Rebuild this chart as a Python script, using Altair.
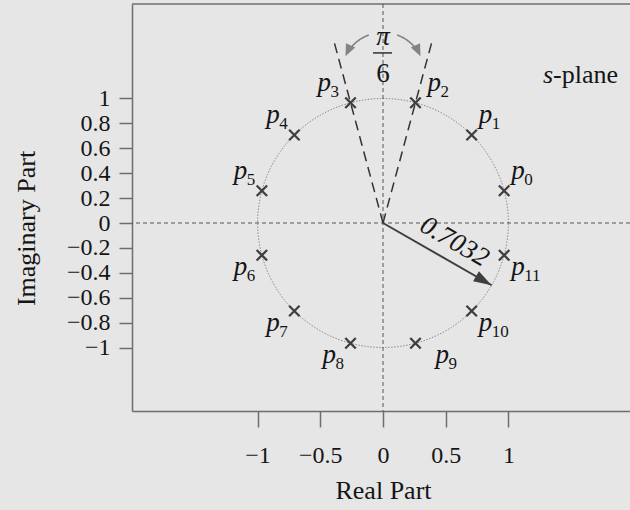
import altair as alt
import numpy as np
import pandas as pd

# ---- data -------------------------------------------------------------
pole_ids = ["0", "1", "2", "3", "4", "5", "6", "7", "8", "9", "10", "11"]
pole_re = [0.966, 0.707, 0.259, -0.259, -0.707, -0.966,
           -0.966, -0.707, -0.259, 0.259, 0.707, 0.966]
pole_im = [0.259, 0.707, 0.966, 0.966, 0.707, 0.259,
           -0.259, -0.707, -0.966, -0.966, -0.707, -0.259]

x_ticks = [-1, -0.5, 0, 0.5, 1]
y_ticks = [-1, -0.8, -0.6, -0.4, -0.2, 0, 0.2, 0.4, 0.6, 0.8, 1]

radius_text = "0.7032"
arrow_angle_deg = -30          # direction of the radius arrow
sector_angles_deg = [75, 105]  # rays through p2 and p3
angle_num, angle_den = "π", "6"

# ---- layout -------------------------------------------------------------
W, H = 498, 407
X_DOM = [-2.0016, 1.9697]
Y_DOM = [-1.510, 1.759]
PX = W / (X_DOM[1] - X_DOM[0])   # pixels per unit
PY = H / (Y_DOM[1] - Y_DOM[0])

SERIF = "Liberation Serif, Times New Roman, Times, serif"
INK = "#151515"
AXIS_GREY = "#6e6e6e"
MARK_DARK = "#3f3f3f"
ARROW_GREY = "#838383"
BG = "#e6e6e6"

xs = alt.Scale(domain=X_DOM, nice=False, zero=False)
ys = alt.Scale(domain=Y_DOM, nice=False, zero=False)

x_axis = alt.Axis(
    values=x_ticks, format="~g", grid=False,
    tickSize=16, tickColor=AXIS_GREY, tickWidth=1.5,
    domainColor=AXIS_GREY, domainWidth=1.5,
    labelFont=SERIF, labelFontSize=24, labelColor=INK, labelPadding=16,
    title="Real Part", titleFont=SERIF, titleFontSize=26,
    titleFontWeight="normal", titleColor=INK,
    titleX=251, titleY=87, titleBaseline="alphabetic",
)
y_axis = alt.Axis(
    values=y_ticks, format="~g", grid=False,
    tickSize=13, tickColor=AXIS_GREY, tickWidth=1.5,
    domainColor=AXIS_GREY, domainWidth=1.5,
    labelFont=SERIF, labelFontSize=24, labelColor=INK, labelPadding=9,
    title="Imaginary Part", titleFont=SERIF, titleFontSize=26,
    titleFontWeight="normal", titleColor=INK,
    titleX=-98, titleY=224, titleAngle=-90, titleBaseline="alphabetic",
)


def X(field):
    return alt.X(field, type="quantitative", scale=xs, axis=x_axis)


def Y(field):
    return alt.Y(field, type="quantitative", scale=ys, axis=y_axis)


# ---- unit circle (dotted guide) ---------------------------------------
t = np.linspace(0, 2 * np.pi, 361)
circle_df = pd.DataFrame({"x": np.cos(t), "y": np.sin(t), "o": np.arange(len(t))})
circle = alt.Chart(circle_df).mark_line(
    color="#8a8a8a", strokeWidth=1, strokeDash=[1.5, 1.5]
).encode(x=X("x"), y=Y("y"), order="o:Q")

# ---- plot frame on top and zero lines ----------------------------------
top_border = alt.Chart().mark_rule(color=AXIS_GREY, strokeWidth=1.5).encode(
    x=alt.value(0), x2=alt.value(W), y=alt.value(0)
)
zero_h = alt.Chart().mark_rule(color="#555555", strokeWidth=1, strokeDash=[4, 3]).encode(
    y=alt.datum(0, scale=ys, axis=y_axis, type="quantitative")
)
zero_v = alt.Chart().mark_rule(color="#555555", strokeWidth=1, strokeDash=[4, 3]).encode(
    x=alt.datum(0, scale=xs, axis=x_axis, type="quantitative")
)

# ---- rays bounding the pi/6 sector -------------------------------------
ray_len = 1.5
rays_df = pd.DataFrame({
    "x0": [0.0] * len(sector_angles_deg),
    "y0": [0.0] * len(sector_angles_deg),
    "x1": [ray_len * np.cos(np.radians(a)) for a in sector_angles_deg],
    "y1": [ray_len * np.sin(np.radians(a)) for a in sector_angles_deg],
})
rays = alt.Chart(rays_df).mark_rule(
    color="#333333", strokeWidth=1.5, strokeDash=[10, 6]
).encode(x=X("x0"), y=Y("y0"), x2="x1", y2="y1")

# ---- poles ---------------------------------------------------------------
poles_df = pd.DataFrame({"id": pole_ids, "re": pole_re, "im": pole_im})
cross = "M-1,-1L1,1M1,-1L-1,1"
poles = alt.Chart(poles_df).mark_point(
    shape=cross, size=110, filled=False, stroke=MARK_DARK, strokeWidth=2.3, opacity=1
).encode(x=X("re"), y=Y("im"))

# label placement (pixel offsets of the "p" glyph's left edge / baseline)
lab = poles_df.copy()
dx = np.where(lab["re"] > 0, 7.0, -28.0)
dy = np.where(lab["im"] > 0, -12.0, 20.0)
dx[2] = 12.0    # keep p2 / p3 clear of the sector rays
dx[3] = -33.0
dx[9] = 20.0
lab["px"] = lab["re"] + dx / PX
lab["py"] = lab["im"] - dy / PY
lab["sx"] = lab["re"] + (dx + 13) / PX
lab["sy"] = lab["im"] - (dy + 6) / PY
lab["p"] = "p"

p_text = alt.Chart(lab).mark_text(
    font=SERIF, fontSize=27, fontStyle="italic", color=INK,
    align="left", baseline="alphabetic"
).encode(x=X("px"), y=Y("py"), text="p:N")
sub_text = alt.Chart(lab).mark_text(
    font=SERIF, fontSize=17, color=INK, align="left", baseline="alphabetic"
).encode(x=X("sx"), y=Y("sy"), text="id:N")

# ---- radius arrow ----------------------------------------------------------
ang = np.radians(arrow_angle_deg)
tip_x, tip_y = np.cos(ang), np.sin(ang)
arrow_df = pd.DataFrame({"x0": [0.0], "y0": [0.0], "x1": [tip_x], "y1": [tip_y]})
shaft = alt.Chart(arrow_df).mark_rule(color=MARK_DARK, strokeWidth=2).encode(
    x=X("x0"), y=Y("y0"), x2="x1", y2="y1"
)
head = alt.Chart(arrow_df).mark_point(
    shape="M0,0L-0.65,2L0.65,2Z", size=324, filled=True,
    color=MARK_DARK, opacity=1, angle=90 - arrow_angle_deg
).encode(x=X("x1"), y=Y("y1"))

radius_lbl = alt.Chart(pd.DataFrame({
    "x": [0.57], "y": [-0.15], "t": [radius_text]
})).mark_text(
    font=SERIF, fontSize=27, fontStyle="italic", color=INK,
    angle=-arrow_angle_deg, align="center", baseline="middle"
).encode(x=X("x"), y=Y("y"), text="t:N")

# ---- curved arrows marking the pi/6 angle -----------------------------------
arc_cx, arc_cy, arc_r = 0.0, 1.2, 0.33
left_th = np.radians(np.linspace(110, 148, 30))
right_th = np.radians(np.linspace(70, 32, 30))
arc_df = pd.concat([
    pd.DataFrame({"x": arc_cx + arc_r * np.cos(left_th),
                  "y": arc_cy + arc_r * np.sin(left_th),
                  "o": np.arange(30), "side": "L"}),
    pd.DataFrame({"x": arc_cx + arc_r * np.cos(right_th),
                  "y": arc_cy + arc_r * np.sin(right_th),
                  "o": np.arange(30), "side": "R"}),
])
arcs = alt.Chart(arc_df).mark_line(color=ARROW_GREY, strokeWidth=1.6).encode(
    x=X("x"), y=Y("y"), order="o:Q", detail="side:N"
)

tip_l, tip_r = np.radians(155), np.radians(25)
arc_heads = []
for th, rot in [(tip_l, 205), (tip_r, 155)]:
    arc_heads.append(
        alt.Chart(pd.DataFrame({"x": [arc_cx + arc_r * np.cos(th)],
                                "y": [arc_cy + arc_r * np.sin(th)]}))
        .mark_point(shape="M0,0L-0.85,2L0.85,2Z", size=144, filled=True,
                    color=ARROW_GREY, opacity=1, angle=rot)
        .encode(x=X("x"), y=Y("y"))
    )

frac_df = pd.DataFrame({"x": [0.0, 0.0], "y": [1.43, 1.133], "t": [angle_num, angle_den]})
frac_num = alt.Chart(frac_df.iloc[[0]]).mark_text(
    font=SERIF, fontSize=27, fontStyle="italic", color=INK,
    align="center", baseline="alphabetic"
).encode(x=X("x"), y=Y("y"), text="t:N")
frac_den = alt.Chart(frac_df.iloc[[1]]).mark_text(
    font=SERIF, fontSize=27, color=INK, align="center", baseline="alphabetic"
).encode(x=X("x"), y=Y("y"), text="t:N")
frac_bar = alt.Chart(pd.DataFrame({"x0": [-0.08], "x1": [0.072], "y": [1.366]})).mark_rule(
    color=INK, strokeWidth=1.3
).encode(x=X("x0"), x2="x1", y=Y("y"))

# ---- "s-plane" tag ----------------------------------------------------------
splane_s = alt.Chart(pd.DataFrame({"x": [1.276], "y": [1.124], "t": ["s"]})).mark_text(
    font=SERIF, fontSize=26, fontStyle="italic", color=INK,
    align="left", baseline="alphabetic"
).encode(x=X("x"), y=Y("y"), text="t:N")
splane_rest = alt.Chart(pd.DataFrame({"x": [1.356], "y": [1.124], "t": ["-plane"]})).mark_text(
    font=SERIF, fontSize=26, color=INK, align="left", baseline="alphabetic"
).encode(x=X("x"), y=Y("y"), text="t:N")

chart = alt.layer(
    circle, top_border, zero_h, zero_v, rays, arcs, *arc_heads,
    shaft, head, poles, p_text, sub_text, radius_lbl,
    frac_num, frac_den, frac_bar, splane_s, splane_rest,
).properties(
    width=W, height=H,
    autosize=alt.AutoSizeParams(type="none"),
    padding={"left": 132, "top": 4, "right": 0, "bottom": 99},
    background=BG,
).configure_view(stroke=None)

chart.save("out.html", embed_options={"renderer": "svg", "actions": False})
